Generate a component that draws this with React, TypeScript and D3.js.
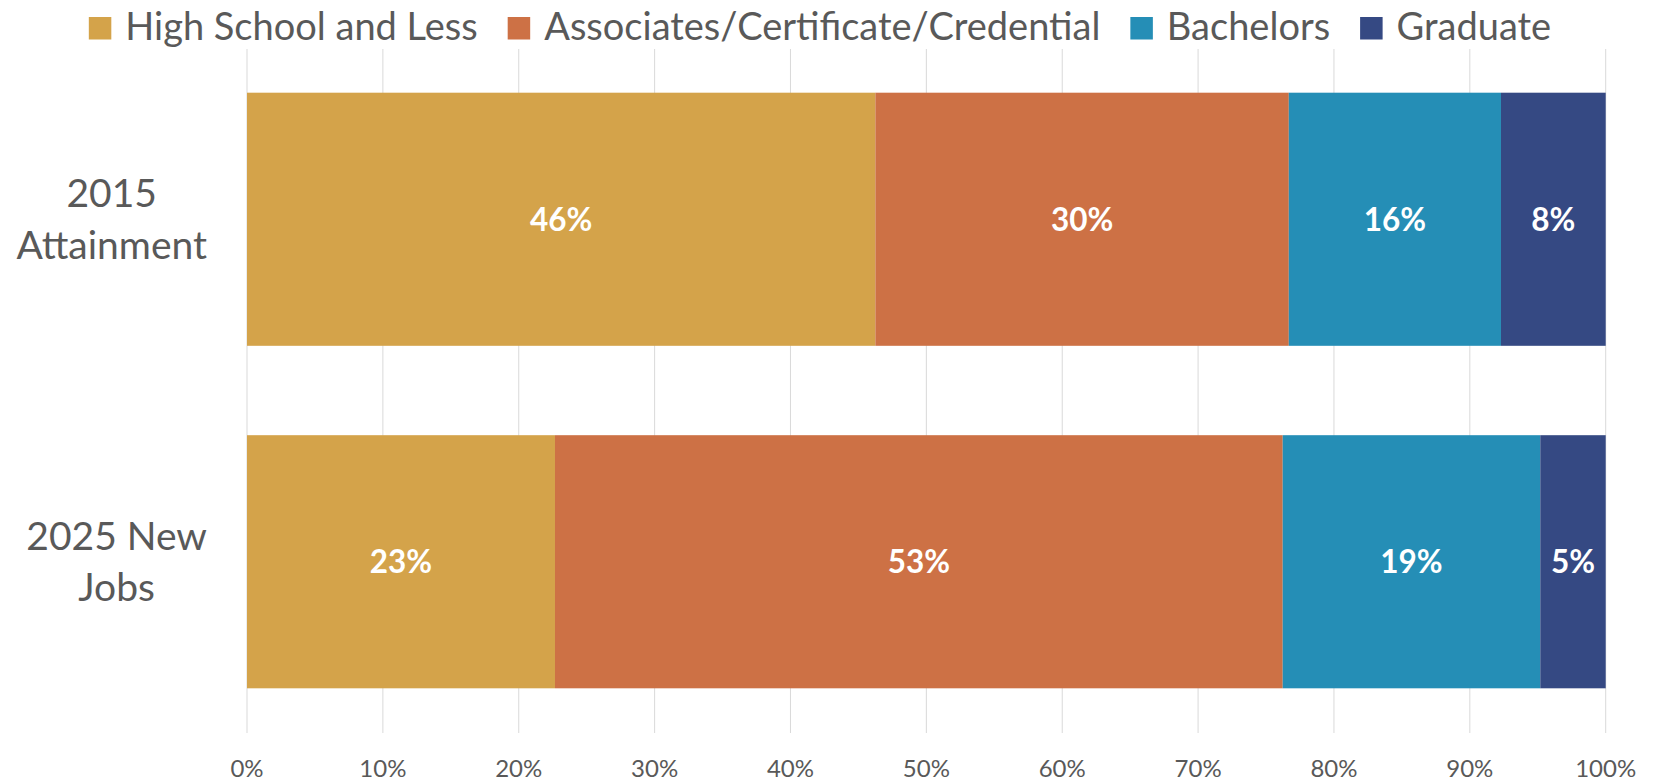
import React, { useEffect, useRef } from 'react'
import * as d3 from 'd3'

// raw shares (Excel 100% stacked bar, so each row is normalised)
const categories = ['2015 Attainment', '2025 New Jobs']
const categoryLines = [
  ['2015', 'Attainment'],
  ['2025 New', 'Jobs'],
]
const seriesNames = [
  'High School and Less',
  'Associates/Certificate/Credential',
  'Bachelors',
  'Graduate',
]
const seriesColors = ['#D4A34A', '#CD7145', '#258EB6', '#354983']
const highSchool = [0.462, 0.226]
const associates = [0.304, 0.534]
const bachelors = [0.156, 0.189]
const graduate = [0.077, 0.048]
const tickValues = [0, 0.1, 0.2, 0.3, 0.4, 0.5, 0.6, 0.7, 0.8, 0.9, 1]

const App = () => {
  const svgRef = useRef<SVGSVGElement>(null)
  const width = 1656
  const height = 781
  const font = "Lato, 'Open Sans', sans-serif"
  const textColor = '#595959'

  const drawChart = () => {
    const svg = d3.select(svgRef.current)
    svg.selectAll('*').remove()

    const rows = categories.map((c, i) => ({
      category: c,
      [seriesNames[0]]: highSchool[i],
      [seriesNames[1]]: associates[i],
      [seriesNames[2]]: bachelors[i],
      [seriesNames[3]]: graduate[i],
    }))

    const stack = d3
      .stack<any>()
      .keys(seriesNames)
      .offset(d3.stackOffsetExpand)
    const layers = stack(rows)

    const x = d3.scaleLinear().domain([0, 1]).range([247, 1605.7])
    const y = d3
      .scaleBand()
      .domain(categories)
      .range([48, 733])
      .paddingInner(0.261)
      .paddingOuter(0.1305)
    const color = d3.scaleOrdinal<string>().domain(seriesNames).range(seriesColors)
    const pct = d3.format('.0%')

    // gridlines
    svg
      .append('g')
      .selectAll('line')
      .data(tickValues)
      .join('line')
      .attr('x1', (d) => x(d))
      .attr('x2', (d) => x(d))
      .attr('y1', 49)
      .attr('y2', 733)
      .attr('stroke', '#D9D9D9')
      .attr('stroke-width', 1)

    // x tick labels
    svg
      .append('g')
      .attr('font-family', font)
      .attr('font-size', 24)
      .attr('fill', textColor)
      .attr('text-anchor', 'middle')
      .selectAll('text')
      .data(tickValues)
      .join('text')
      .attr('x', (d) => x(d))
      .attr('y', 777)
      .text((d) => pct(d))

    // bars
    svg
      .append('g')
      .selectAll('g')
      .data(layers)
      .join('g')
      .attr('fill', (d) => color(d.key))
      .selectAll('rect')
      .data((d) => d)
      .join('rect')
      .attr('x', (d) => x(d[0]))
      .attr('width', (d) => x(d[1]) - x(d[0]))
      .attr('y', (d) => y(d.data.category)!)
      .attr('height', y.bandwidth())

    // data labels (raw values)
    svg
      .append('g')
      .attr('font-family', font)
      .attr('font-size', 31.5)
      .attr('font-weight', 700)
      .attr('fill', '#fff')
      .attr('text-anchor', 'middle')
      .selectAll('g')
      .data(layers)
      .join('g')
      .selectAll('text')
      .data((d) => d.map((p) => ({ p, key: d.key })))
      .join('text')
      .attr('x', (d) => (x(d.p[0]) + x(d.p[1])) / 2)
      .attr('y', (d) => y(d.p.data.category)! + y.bandwidth() / 2)
      .attr('dy', '0.36em')
      .text((d) => pct(d.p.data[d.key]))

    // category labels, wrapped and centred within their block, block right-aligned
    const labelSize = 39
    const lineGap = 51.5
    const cap = labelSize * 0.7165
    const right = 207
    categories.forEach((c, i) => {
      const lines = categoryLines[i]
      const cy = y(c)! + y.bandwidth() / 2
      const g = svg
        .append('g')
        .attr('font-family', font)
        .attr('font-size', labelSize)
        .attr('fill', textColor)
        .attr('text-anchor', 'middle')
      const texts = g
        .selectAll('text')
        .data(lines)
        .join('text')
        .attr('y', (_, j) => cy - ((lines.length - 1) * lineGap) / 2 + j * lineGap + cap / 2)
        .text((d) => d)
      let maxW = 0
      texts.each(function () {
        maxW = Math.max(maxW, (this as SVGTextElement).getComputedTextLength())
      })
      texts.attr('x', right - maxW / 2)
    })

    // legend
    const legendSize = 38
    const sw = 22.5
    const gapText = 14
    const gapItem = 30
    const legend = svg
      .append('g')
      .attr('font-family', font)
      .attr('font-size', legendSize)
      .attr('fill', textColor)
    const items = legend
      .selectAll('g')
      .data(seriesNames)
      .join('g')
    items
      .append('rect')
      .attr('y', 17)
      .attr('width', sw)
      .attr('height', sw)
      .attr('fill', (d) => color(d))
    const labels = items
      .append('text')
      .attr('x', sw + gapText)
      .attr('y', 39.5)
      .text((d) => d)
    const widths: number[] = []
    labels.each(function () {
      widths.push((this as SVGTextElement).getComputedTextLength())
    })
    const total =
      d3.sum(widths) + seriesNames.length * (sw + gapText) + (seriesNames.length - 1) * gapItem
    let cursor = 820 - total / 2
    items.attr('transform', (_, i) => {
      const t = `translate(${cursor},0)`
      cursor += sw + gapText + widths[i] + gapItem
      return t
    })
  }

  useEffect(() => {
    drawChart()
  }, [])

  return (
    <svg
      ref={svgRef}
      width={width}
      height={height}
      style={{ position: 'absolute', left: 0, top: 0, background: '#fff' }}
    ></svg>
  )
}

export default App
